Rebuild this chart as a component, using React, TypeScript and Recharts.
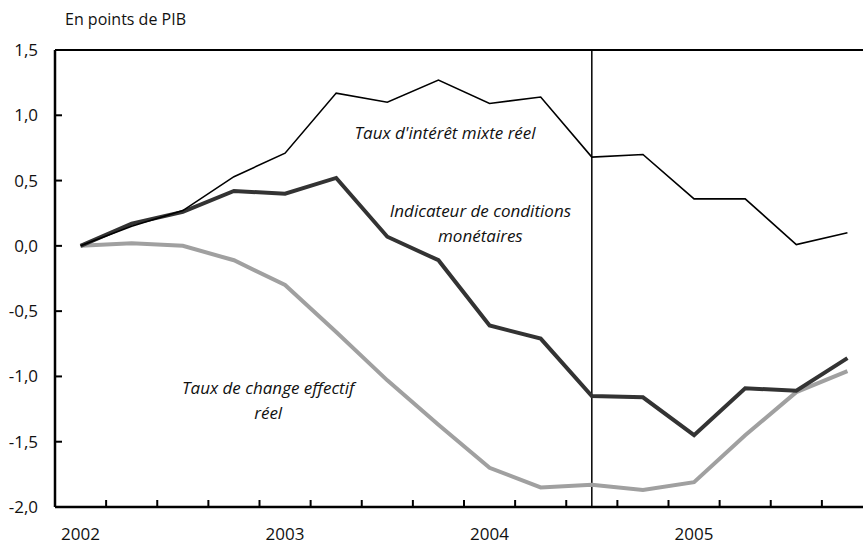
import { LineChart, Line, XAxis, YAxis, ReferenceLine, ReferenceDot } from "recharts";

const quarters = [
  "2002T1", "2002T2", "2002T3", "2002T4",
  "2003T1", "2003T2", "2003T3", "2003T4",
  "2004T1", "2004T2", "2004T3", "2004T4",
  "2005T1", "2005T2", "2005T3", "2005T4",
];
const tauxInteret = [0, 0.15, 0.27, 0.53, 0.71, 1.17, 1.1, 1.27, 1.09, 1.14, 0.68, 0.7, 0.36, 0.36, 0.01, 0.1];
const icm = [0, 0.17, 0.26, 0.42, 0.4, 0.52, 0.07, -0.11, -0.61, -0.71, -1.15, -1.16, -1.45, -1.09, -1.11, -0.86];
const tauxChange = [0, 0.02, 0, -0.11, -0.3, -0.66, -1.03, -1.37, -1.7, -1.85, -1.83, -1.87, -1.81, -1.45, -1.12, -0.96];
const yTicks = [-2, -1.5, -1, -0.5, 0, 0.5, 1, 1.5];
const boundaryTicks = quarters.map((_, i) => i - 0.5).concat([quarters.length - 0.5]);
const yearTicks = [0, 4, 8, 12];

const data = quarters.map((q, i) => ({
  t: i,
  q,
  tauxInteret: tauxInteret[i],
  icm: icm[i],
  tauxChange: tauxChange[i],
}));

const font = "'Open Sans', sans-serif";

function XTick(props: any) {
  const { x, y, payload } = props;
  const v = payload.value;
  if (Number.isInteger(v)) {
    return (
      <text x={x} y={y + 33} textAnchor="middle" fontSize={17} fill="#111" fontFamily={font}>
        {quarters[v].slice(0, 4)}
      </text>
    );
  }
  return <line x1={x} x2={x} y1={y} y2={y - 7} stroke="#000" strokeWidth={2} />;
}

function Note({ viewBox, lines }: any) {
  const cx = viewBox.x;
  const cy = viewBox.y;
  return (
    <text x={cx} y={cy} textAnchor="middle" fontSize={17} fontStyle="italic" fill="#111" fontFamily={font}>
      {lines.map((l: string, i: number) => (
        <tspan key={i} x={cx} dy={i === 0 ? 0 : 25}>
          {l}
        </tspan>
      ))}
    </text>
  );
}

export default function App() {
  return (
    <div style={{ position: "fixed", left: 0, top: 0, width: 863, height: 546, overflow: "hidden", background: "#fff" }}>
      <div style={{ position: "absolute", left: 65, top: 8, fontSize: 16, fontFamily: font, color: "#111" }}>
        En points de PIB
      </div>
      <LineChart width={880} height={546} data={data} margin={{ top: 50, right: 7, left: 0, bottom: 0 }}>
        <XAxis
          dataKey="t"
          type="number"
          domain={[-0.5, quarters.length - 0.5]}
          ticks={[...boundaryTicks, ...yearTicks]}
          interval={0}
          tickLine={false}
          tickSize={0}
          tickMargin={0}
          tick={<XTick />}
          height={39}
          axisLine={{ stroke: "#000", strokeWidth: 2.5 }}
        />
        <YAxis
          domain={[-2, 1.5]}
          ticks={yTicks}
          interval={0}
          width={55}
          tickSize={-7}
          tickMargin={24}
          tickLine={{ stroke: "#000", strokeWidth: 2 }}
          axisLine={{ stroke: "#000", strokeWidth: 2.5 }}
          tickFormatter={(v: number) => v.toFixed(1).replace(".", ",")}
          tick={{ fontSize: 17, fill: "#111", fontFamily: font }}
        />
        <ReferenceLine y={1.5} stroke="#000" strokeWidth={2} />
        <ReferenceLine x={10} stroke="#000" strokeWidth={1.5} />
        <Line dataKey="tauxChange" stroke="#a0a0a0" strokeWidth={4} dot={false} isAnimationActive={false} />
        <Line dataKey="icm" stroke="#333333" strokeWidth={4} dot={false} isAnimationActive={false} />
        <Line dataKey="tauxInteret" stroke="#000" strokeWidth={1.6} dot={false} isAnimationActive={false} />
        <ReferenceDot x={7.13} y={0.82} r={0} stroke="none" fill="none" label={{ content: (p: any) => <Note {...p} lines={["Taux d'intérêt mixte réel"]} /> }} />
        <ReferenceDot x={7.82} y={0.224} r={0} stroke="none" fill="none" label={{ content: (p: any) => <Note {...p} lines={["Indicateur de conditions", "monétaires"]} /> }} />
        <ReferenceDot x={3.67} y={-1.131} r={0} stroke="none" fill="none" label={{ content: (p: any) => <Note {...p} lines={["Taux de change effectif", "réel"]} /> }} />
      </LineChart>
    </div>
  );
}
